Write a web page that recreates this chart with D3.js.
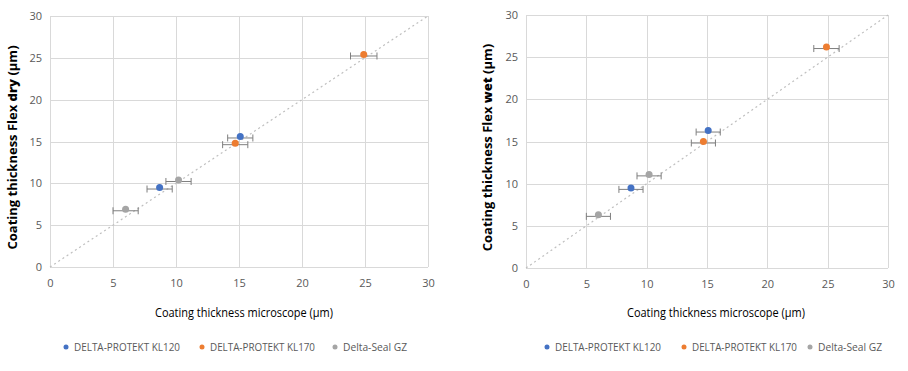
<!DOCTYPE html>
<meta charset="utf-8">
<style>
body { margin: 0; background: #fff; }
svg text { font-family: "Open Sans", sans-serif; }
.tick text { fill: #595959; font-size: 11px; }
.grid line { stroke: #d9d9d9; stroke-width: 1; shape-rendering: crispEdges; }
.grid path { display: none; }
</style>
<body>
<script src="https://cdn.jsdelivr.net/npm/d3@7"></script>
<script>

// data
var seriesNames = ["DELTA-PROTEKT KL120", "DELTA-PROTEKT KL170", "Delta-Seal GZ"];
var colors = ["#4472c4", "#ed7d31", "#a5a5a5"];

var microscope = [[8.7, 15.1], [14.7, 24.9], [6.0, 10.2]];
var microscopeErr = [[1.0, 1.0], [1.0, 1.05], [1.0, 1.0]];
var flexDry = [[9.5, 15.6], [14.8, 25.4], [6.9, 10.4]];
var flexWet = [[9.5, 16.3], [15.0, 26.2], [6.3, 11.1]];

var ticks = [0, 5, 10, 15, 20, 25, 30];

var svg = d3.select("body").append("svg")
    .attr("width", 908)
    .attr("height", 371);

var panels = [
  {left: 50, right: 428, top: 16, bottom: 267, yData: flexDry, word: "dry", titleX: 12,
   legendX: 62, legendOff: [0, 136, 269], xTitleX: 244},
  {left: 526, right: 888, top: 15, bottom: 268, yData: flexWet, word: "wet", titleX: 487,
   legendX: 543, legendOff: [0, 137, 263], xTitleX: 716}
];
var legendWidths = [106, 105, 64];

panels.forEach(function(p) {
  var x = d3.scaleLinear().domain([0, 30]).range([p.left, p.right]);
  var y = d3.scaleLinear().domain([0, 30]).range([p.bottom, p.top]);

  // gridlines
  svg.append("g").attr("class", "grid")
      .attr("transform", "translate(0," + p.bottom + ")")
      .call(d3.axisBottom(x).tickValues(ticks).tickSize(-(p.bottom - p.top)).tickFormat(""));
  svg.append("g").attr("class", "grid")
      .attr("transform", "translate(" + p.left + ",0)")
      .call(d3.axisLeft(y).tickValues(ticks).tickSize(-(p.right - p.left)).tickFormat(""));

  // tick labels
  var xa = svg.append("g")
      .attr("transform", "translate(0," + (p.bottom + 8) + ")")
      .call(d3.axisBottom(x).tickValues(ticks).tickSize(0).tickPadding(4));
  xa.select(".domain").remove();
  var ya = svg.append("g")
      .attr("transform", "translate(" + (p.left - 6) + ",0)")
      .call(d3.axisLeft(y).tickValues(ticks).tickSize(0).tickPadding(2));
  ya.select(".domain").remove();

  // 1:1 line
  svg.append("line")
      .attr("x1", x(0)).attr("y1", y(0))
      .attr("x2", x(30)).attr("y2", y(30))
      .attr("stroke", "#bfbfbf")
      .attr("stroke-width", 1.2)
      .attr("stroke-dasharray", "2,3");

  // points with horizontal error bars
  seriesNames.forEach(function(name, s) {
    microscope[s].forEach(function(mx, i) {
      var my = p.yData[s][i], e = microscopeErr[s][i];
      var g = svg.append("g").attr("stroke", "#7f7f7f").attr("stroke-width", 1);
      g.append("line").attr("x1", x(mx - e)).attr("x2", x(mx + e))
          .attr("y1", y(my) + 1.5).attr("y2", y(my) + 1.5);
      g.append("line").attr("x1", x(mx - e)).attr("x2", x(mx - e))
          .attr("y1", y(my) - 2).attr("y2", y(my) + 5);
      g.append("line").attr("x1", x(mx + e)).attr("x2", x(mx + e))
          .attr("y1", y(my) - 2).attr("y2", y(my) + 5);
      svg.append("circle")
          .attr("cx", x(mx)).attr("cy", y(my))
          .attr("r", 3.5)
          .attr("fill", colors[s]);
    });
  });

  // axis titles
  svg.append("text")
      .attr("x", p.xTitleX)
      .attr("y", 317)
      .attr("text-anchor", "middle")
      .attr("font-size", 13)
      .attr("textLength", 178)
      .attr("lengthAdjust", "spacingAndGlyphs")
      .attr("fill", "#000")
      .text("Coating thickness microscope (µm)");

  var yt = svg.append("text")
      .attr("transform", "translate(" + (p.titleX + 5) + "," + ((p.top + p.bottom) / 2 + 6) + ") rotate(-90)")
      .attr("text-anchor", "middle")
      .attr("font-size", 13)
      .attr("font-weight", "bold")
      .attr("fill", "#000");
  yt.append("tspan").text("Coating thickness Flex ");
  yt.append("tspan").attr("font-weight", 900).text(p.word);
  yt.append("tspan").text(" (µm)");

  // legend
  seriesNames.forEach(function(name, s) {
    var g = svg.append("g").attr("transform", "translate(" + (p.legendX + p.legendOff[s]) + ",347)");
    g.append("circle").attr("cx", 4).attr("cy", 0).attr("r", 2.5).attr("fill", colors[s]);
    g.append("text").attr("x", 12).attr("y", 4)
        .attr("font-size", 11.5)
        .attr("textLength", legendWidths[s])
        .attr("lengthAdjust", "spacingAndGlyphs")
        .attr("fill", "#595959").text(name);
  });
});

</script>
